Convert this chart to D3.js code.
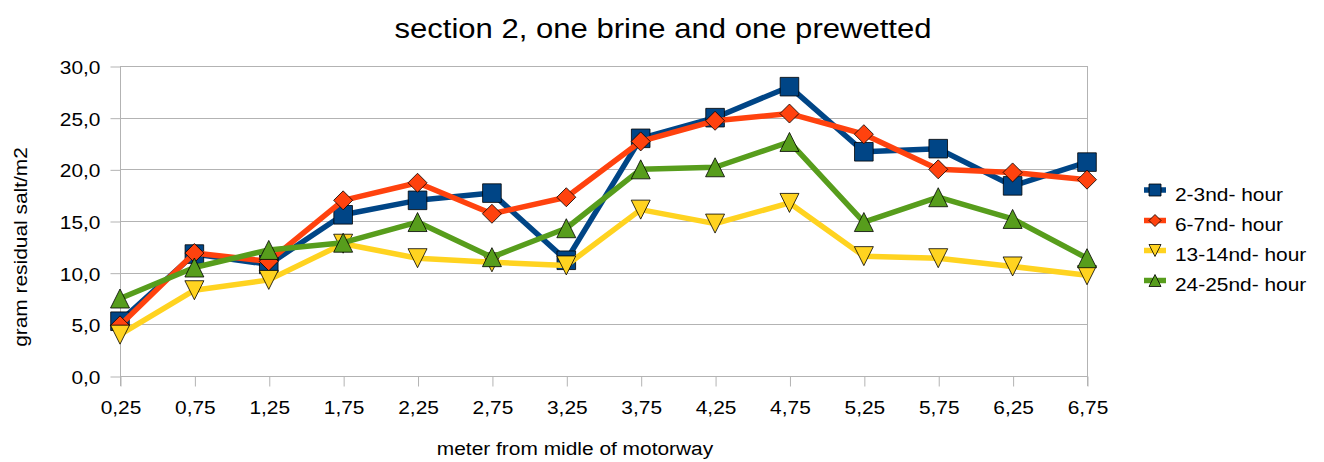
<!DOCTYPE html>
<html>
<head>
<meta charset="utf-8">
<script src="https://cdn.jsdelivr.net/npm/d3@7"></script>
<style>
  html, body { margin: 0; padding: 0; background: #ffffff; }
  svg { display: block; font-family: "Liberation Sans", Arial, sans-serif; }
</style>
</head>
<body>
<svg id="chart" width="1324" height="462"></svg>
<script>
const categories = ["0,25","0,75","1,25","1,75","2,25","2,75","3,25","3,75","4,25","4,75","5,25","5,75","6,25","6,75"];
const seriesNames = ["2-3nd- hour","6-7nd- hour","13-14nd- hour","24-25nd- hour"];
const hours2_3   = [5.3, 11.8, 10.8, 15.6, 17.0, 17.7, 11.2, 23.0, 25.0, 28.0, 21.7, 22.0, 18.4, 20.7];
const hours6_7   = [4.9, 11.9, 11.1, 17.0, 18.7, 15.7, 17.3, 22.7, 24.7, 25.4, 23.4, 20.0, 19.7, 19.0];
const hours13_14 = [4.0, 8.3, 9.3, 12.8, 11.4, 11.0, 10.7, 16.1, 14.75, 16.75, 11.6, 11.4, 10.6, 9.75];
const hours24_25 = [7.5, 10.5, 12.2, 12.9, 14.9, 11.5, 14.3, 20.0, 20.2, 22.65, 14.9, 17.3, 15.2, 11.4];
const yTicks = [0, 5, 10, 15, 20, 25, 30];
const colors = ["#004586", "#ff420e", "#ffd320", "#579d1c"];
const shapes = ["square", "diamond", "triangleDown", "triangleUp"];
const titleText = "section 2, one brine and one prewetted";
const xTitle = "meter from midle of motorway";
const yTitle = "gram residual salt/m2";

const allSeries = [hours2_3, hours6_7, hours13_14, hours24_25];

const svg = d3.select("#chart");
const plot = { left: 120, right: 1087, top: 66, bottom: 376 };
const SX = 1.1;     // horizontal glyph stretch seen in the reference
const FS = 19;      // base font size

const x = d3.scalePoint().domain(categories).range([plot.left, plot.right]).padding(0);
const y = d3.scaleLinear().domain([0, 30]).range([plot.bottom, plot.top]);

const grid = "#b3b3b3";

// gridlines
svg.append("g").selectAll("line").data(yTicks).join("line")
  .attr("x1", plot.left).attr("x2", plot.right)
  .attr("y1", d => Math.round(y(d)) + 0.5).attr("y2", d => Math.round(y(d)) + 0.5)
  .attr("stroke", grid).attr("stroke-width", 1);

// plot frame verticals
svg.append("line").attr("x1", plot.left + 0.5).attr("x2", plot.left + 0.5)
  .attr("y1", plot.top).attr("y2", plot.bottom + 10).attr("stroke", grid);
svg.append("line").attr("x1", plot.right + 0.5).attr("x2", plot.right + 0.5)
  .attr("y1", plot.top).attr("y2", plot.bottom + 10).attr("stroke", grid);

// y axis
const yAxis = d3.axisLeft(y).tickValues(yTicks).tickSize(10).tickPadding(10)
  .tickFormat(d => d3.format(".1f")(d).replace(".", ","));
const gy = svg.append("g").attr("transform", `translate(${plot.left + 0.5},0.5)`).call(yAxis);
gy.select(".domain").remove();
gy.selectAll(".tick line").attr("stroke", grid);
gy.selectAll(".tick text")
  .attr("font-size", FS).attr("fill", "#000")
  .attr("font-family", "Liberation Sans, Arial, sans-serif")
  .attr("x", 0).attr("dy", null).attr("y", 0)
  .attr("transform", `translate(-20,7) scale(${SX},1)`);

// x axis
const xAxis = d3.axisBottom(x).tickSize(10).tickPadding(14);
const gx = svg.append("g").attr("transform", `translate(0.5,${plot.bottom + 0.5})`).call(xAxis);
gx.select(".domain").remove();
gx.selectAll(".tick line").attr("stroke", grid);
gx.selectAll(".tick text")
  .attr("font-size", FS).attr("fill", "#000")
  .attr("font-family", "Liberation Sans, Arial, sans-serif")
  .attr("y", 0).attr("dy", null)
  .attr("transform", `translate(0,37) scale(${SX},1)`);

// marker path
function markerPath(shape, cx, cy, r) {
  switch (shape) {
    case "square":
      return `M${cx - r},${cy - r}H${cx + r}V${cy + r}H${cx - r}Z`;
    case "diamond":
      return `M${cx},${cy - r}L${cx + r},${cy}L${cx},${cy + r}L${cx - r},${cy}Z`;
    case "triangleUp":
      return `M${cx},${cy - r}L${cx + r},${cy + r}L${cx - r},${cy + r}Z`;
    case "triangleDown":
      return `M${cx - r},${cy - r}L${cx + r},${cy - r}L${cx},${cy + r}Z`;
  }
}

const line = d3.line().x((d, i) => x(categories[i])).y(d => y(d));

allSeries.forEach((vals, si) => {
  const g = svg.append("g");
  g.append("path").datum(vals).attr("d", line)
    .attr("fill", "none").attr("stroke", colors[si]).attr("stroke-width", 5.5)
    .attr("stroke-linejoin", "round");
  g.selectAll("path.m").data(vals).join("path").attr("class", "m")
    .attr("d", (d, i) => markerPath(shapes[si], x(categories[i]), y(d), si === 0 ? 9.3 : 9.5))
    .attr("fill", colors[si]).attr("stroke", "#000").attr("stroke-width", 0.8);
});

// title
svg.append("text").attr("transform", `translate(663,38) scale(1.13,1)`).attr("text-anchor", "middle")
  .attr("font-size", 27.5).attr("fill", "#000").text(titleText);

// axis titles
svg.append("text").attr("transform", `translate(575,455) scale(${SX},1)`).attr("text-anchor", "middle")
  .attr("font-size", FS).attr("fill", "#000").text(xTitle);
svg.append("text").attr("transform", `translate(27,247) rotate(-90) scale(${SX},1)`).attr("text-anchor", "middle")
  .attr("font-size", FS).attr("fill", "#000").text(yTitle);

// legend
const legY = [190, 220.5, 250.5, 280.5];
const leg = svg.append("g");
seriesNames.forEach((name, i) => {
  const ly = legY[i];
  leg.append("line").attr("x1", 1144).attr("x2", 1166).attr("y1", ly).attr("y2", ly)
    .attr("stroke", colors[i]).attr("stroke-width", 5.5);
  leg.append("path").attr("d", markerPath(shapes[i], 1155, ly, 6))
    .attr("fill", colors[i]).attr("stroke", "#000").attr("stroke-width", 0.8);
  leg.append("text").attr("transform", `translate(1175,${ly + 10.5}) scale(${SX},1)`)
    .attr("font-size", FS).attr("fill", "#000").text(name);
});
</script>
</body>
</html>
